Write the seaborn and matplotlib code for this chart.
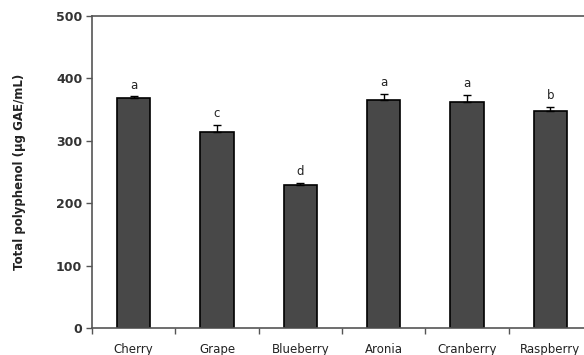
import numpy as np
import pandas as pd
import matplotlib
matplotlib.use("Agg")
import matplotlib.pyplot as plt
from matplotlib.ticker import FixedLocator, NullFormatter
import seaborn as sns

# Total polyphenol content of berry extracts
fruits = ["Cherry", "Grape", "Blueberry", "Aronia", "Cranberry", "Raspberry"]
polyphenol = [368, 314, 229, 366, 362, 348]
sd = [3, 12, 3, 9, 11, 6]
letters = ["a", "c", "d", "a", "a", "b"]

df = pd.DataFrame({"fruit": fruits, "value": polyphenol})

sns.set_style("white")
plt.rcParams["font.family"] = ["DejaVu Sans"]

fig = plt.figure(figsize=(5.84, 3.55), dpi=100)
ax = fig.add_axes([92 / 584, 27 / 355, 500 / 584, 312 / 355])

sns.barplot(data=df, x="fruit", y="value", color="#484848", width=0.4,
            edgecolor="black", linewidth=1.2, saturation=1, errorbar=None, ax=ax)

xpos = np.arange(len(fruits))
ax.errorbar(xpos, polyphenol, yerr=[np.zeros(len(sd)), sd], fmt="none",
            ecolor="black", elinewidth=1, capsize=3, capthick=1)

for x, v, e, t in zip(xpos, polyphenol, sd, letters):
    ax.text(x, v + e + 8, t, ha="center", va="bottom", fontsize=8.5, color="#222222")

ax.set_xlim(-0.5, 5.5)
ax.set_ylim(0, 500)
ax.set_yticks([0, 100, 200, 300, 400, 500])
ax.set_yticklabels(["0", "100", "200", "300", "400", "500"], fontsize=9,
                   fontweight="bold", color="#333333")
ax.set_xticks(xpos)
ax.set_xticklabels(fruits, fontsize=8.5, color="#222222")
ax.xaxis.set_minor_locator(FixedLocator(np.arange(-0.5, 5.6, 1.0)))
ax.xaxis.set_minor_formatter(NullFormatter())
ax.tick_params(axis="x", which="major", bottom=True, length=0, pad=11)
ax.tick_params(axis="x", which="minor", bottom=True, direction="out", length=4,
               width=1, color="#555555")
ax.tick_params(axis="y", which="major", left=True, direction="out", length=4,
               width=1, color="#555555", pad=3)

ax.set_xlabel("")
ax.set_ylabel("Total polyphenol (μg GAE/mL)", fontsize=8.5, fontweight="bold", color="#222222")
ax.yaxis.set_label_coords(-0.132, 0.5)

for side in ["left", "bottom", "top"]:
    ax.spines[side].set_color("#555555")
    ax.spines[side].set_linewidth(1.2)
ax.spines["right"].set_visible(False)

fig.savefig("out.png", dpi=100)
